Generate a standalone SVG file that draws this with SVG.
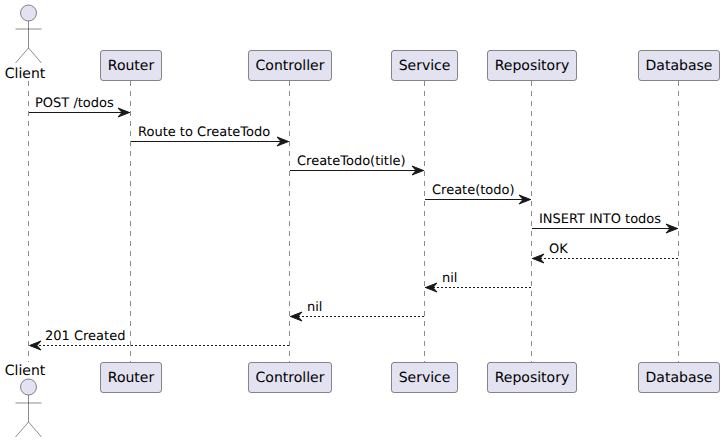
<svg xmlns="http://www.w3.org/2000/svg" width="724" height="443" viewBox="0 0 724 443">
<style>
text{font-family:"DejaVu Sans",sans-serif;font-size:13px;fill:#000;text-rendering:geometricPrecision}
.n{font-size:14px;text-anchor:middle}
.box{fill:#E2E2F0;stroke:#181818;stroke-width:.5}
.actor{fill:#E2E2F0;stroke:#181818;stroke-width:.5}
.life{stroke:#181818;stroke-width:.5;stroke-dasharray:5 5;fill:none}
.m{stroke:#181818;stroke-width:1;fill:none}
.d{stroke-dasharray:2 2}
</style>
<defs>
<marker id="a" markerUnits="userSpaceOnUse" markerWidth="16" markerHeight="14" refX="14" refY="7" orient="auto"><path d="M2 2.5 L13.5 7 L2 11.5 L6 7 Z" fill="#181818" stroke="#181818" stroke-width="1"/></marker>
<g id="stick"><circle class="actor" cx="0" cy="8" r="8"/><path class="actor" style="fill:none" d="M0 16V43M-13 24H13M0 43L-13 58M0 43L13 58"/></g>
</defs>
<g id="lifelines">
<path class="life" d="M28.5 81V362M130.5 81V362M289.5 81V362M424.5 81V362M531.5 81V362M678.5 81V362"/>
</g>
<g id="connectors">
<path class="m" marker-end="url(#a)" d="M29 112.5H130"/>
<path class="m" marker-end="url(#a)" d="M131 141.5H289"/>
<path class="m" marker-end="url(#a)" d="M290 170.5H424"/>
<path class="m" marker-end="url(#a)" d="M425 199.5H531"/>
<path class="m" marker-end="url(#a)" d="M532 228.5H678"/>
<path class="m d" marker-end="url(#a)" d="M678 258.5H532"/>
<path class="m d" marker-end="url(#a)" d="M531 287.5H425"/>
<path class="m d" marker-end="url(#a)" d="M424 316.5H290"/>
<path class="m d" marker-end="url(#a)" d="M289 345.5H29"/>
<text x="35" y="107">POST /todos</text>
<text x="138" y="136">Route to CreateTodo</text>
<text x="297" y="165">CreateTodo(title)</text>
<text x="432" y="194">Create(todo)</text>
<text x="539" y="223">INSERT INTO todos</text>
<text x="549" y="253">OK</text>
<text x="442" y="282">nil</text>
<text x="307" y="311">nil</text>
<text x="45" y="340">201 Created</text>
</g>
<g id="client-top"><use href="#stick" x="28.5" y="5"/><text class="n" x="25" y="78">Client</text></g>
<g id="client-bottom"><use href="#stick" x="28.5" y="379"/><text class="n" x="25" y="375">Client</text></g>
<g id="router-top"><rect class="box" x="100.5" y="50.5" width="61" height="30" rx="2.5"/><text class="n" x="131" y="70">Router</text></g>
<g id="controller-top"><rect class="box" x="248.5" y="50.5" width="83" height="30" rx="2.5"/><text class="n" x="290" y="70">Controller</text></g>
<g id="service-top"><rect class="box" x="391.5" y="50.5" width="66" height="30" rx="2.5"/><text class="n" x="424.5" y="70">Service</text></g>
<g id="repository-top"><rect class="box" x="487.5" y="50.5" width="89" height="30" rx="2.5"/><text class="n" x="532" y="70">Repository</text></g>
<g id="database-top"><rect class="box" x="638.5" y="50.5" width="81" height="30" rx="2.5"/><text class="n" x="679" y="70">Database</text></g>
<g id="router-bottom"><rect class="box" x="100.5" y="362.5" width="61" height="30" rx="2.5"/><text class="n" x="131" y="382">Router</text></g>
<g id="controller-bottom"><rect class="box" x="248.5" y="362.5" width="83" height="30" rx="2.5"/><text class="n" x="290" y="382">Controller</text></g>
<g id="service-bottom"><rect class="box" x="391.5" y="362.5" width="66" height="30" rx="2.5"/><text class="n" x="424.5" y="382">Service</text></g>
<g id="repository-bottom"><rect class="box" x="487.5" y="362.5" width="89" height="30" rx="2.5"/><text class="n" x="532" y="382">Repository</text></g>
<g id="database-bottom"><rect class="box" x="638.5" y="362.5" width="81" height="30" rx="2.5"/><text class="n" x="679" y="382">Database</text></g>
</svg>
